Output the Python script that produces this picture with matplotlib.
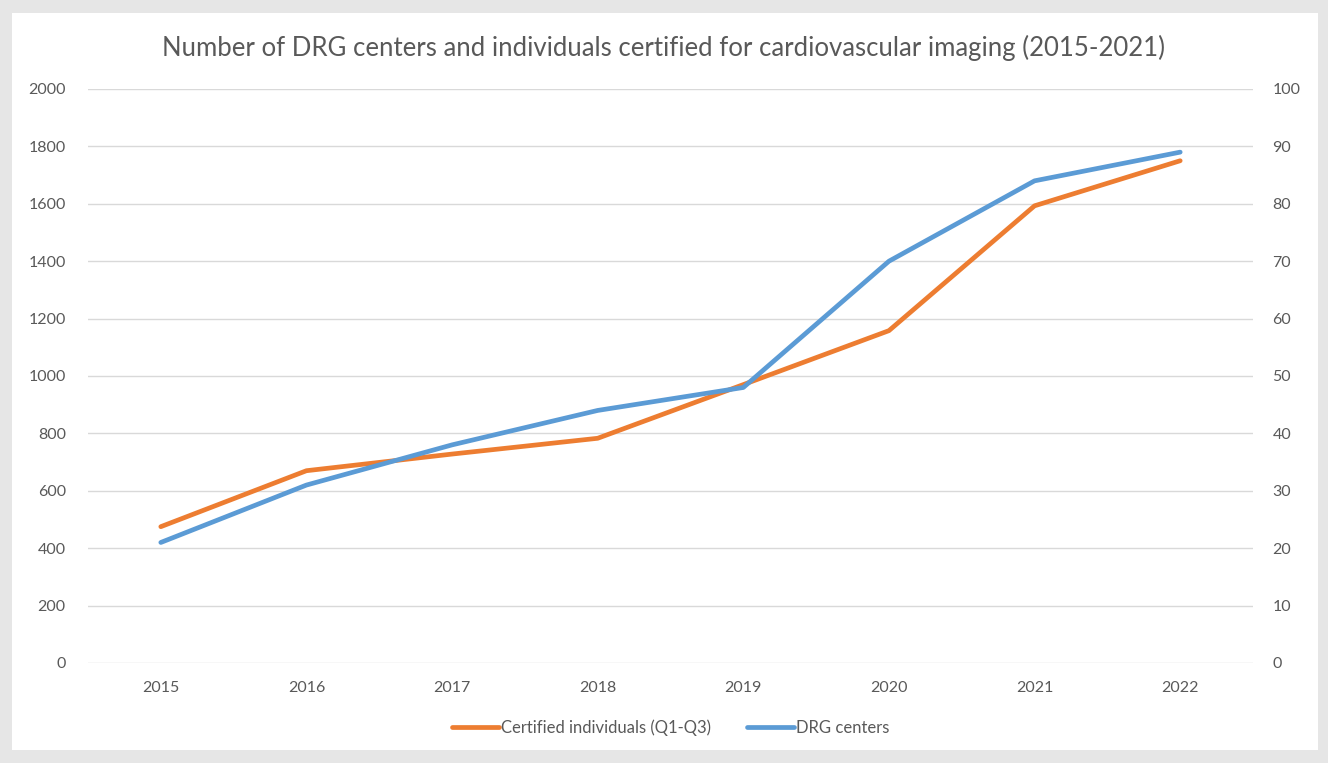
import matplotlib.pyplot as plt
from matplotlib.patches import Rectangle

# Data
years = ['2015', '2016', '2017', '2018', '2019', '2020', '2021', '2022']
certified = [475, 670, 728, 783, 970, 1158, 1593, 1750]
drg_centers = [21, 31, 38, 44, 48, 70, 84, 89]

plt.rcParams['font.family'] = ['Lato', 'DejaVu Sans']
text_col = '#595959'
orange = '#ED7D31'
blue = '#5B9BD5'

W, H = 1328, 763
fig = plt.figure(figsize=(W / 100, H / 100), dpi=100, facecolor='#e6e6e6')
# white chart area inside the grey frame
fig.patches.append(Rectangle((12 / W, 13 / H), (1318 - 12) / W, (750 - 13) / H,
                             transform=fig.transFigure, facecolor='white',
                             edgecolor='none', zorder=-10))

# axes box in pixels: left 88, right 1253, top 89, bottom 663
ax = fig.add_axes([88 / W, 1 - 663 / H, (1253 - 88) / W, (663 - 89) / H])
ax.set_facecolor('none')
ax2 = ax.twinx()

x = range(len(years))
l1, = ax.plot(x, certified, color=orange, lw=3.4, solid_capstyle='round',
              solid_joinstyle='round', label='Certified individuals (Q1-Q3)', zorder=3)
l2, = ax2.plot(x, drg_centers, color=blue, lw=3.4, solid_capstyle='round',
               solid_joinstyle='round', label='DRG centers', zorder=3)

ax.set_xlim(-0.5, len(years) - 0.5)
ax.set_ylim(0, 2000)
ax2.set_ylim(0, 100)
ax.set_yticks(range(0, 2001, 200))
ax2.set_yticks(range(0, 101, 10))
ax.set_xticks(list(x))
ax.set_xticklabels(years)

ax.grid(axis='y', color='#d9d9d9', lw=1)
ax.set_axisbelow(True)
for a in (ax, ax2):
    for s in a.spines.values():
        s.set_visible(False)
    a.tick_params(length=0, colors=text_col, labelsize=11.5)
ax.tick_params(axis='y', pad=16)
ax2.tick_params(axis='y', pad=14)
ax.tick_params(axis='x', pad=13)

fig.text(0.5, 1 - 48 / H,
         'Number of DRG centers and individuals certified for cardiovascular imaging (2015-2021)',
         ha='center', va='center', fontsize=18.5, color=text_col)

fig.legend(handles=[l1, l2], loc='center', bbox_to_anchor=(0.505, 1 - 728 / H),
           ncol=2, frameon=False, fontsize=12, labelcolor=text_col,
           handlelength=2.8, handletextpad=0.1, columnspacing=2.2)

fig.savefig('out.png', dpi=100, facecolor=fig.get_facecolor())
